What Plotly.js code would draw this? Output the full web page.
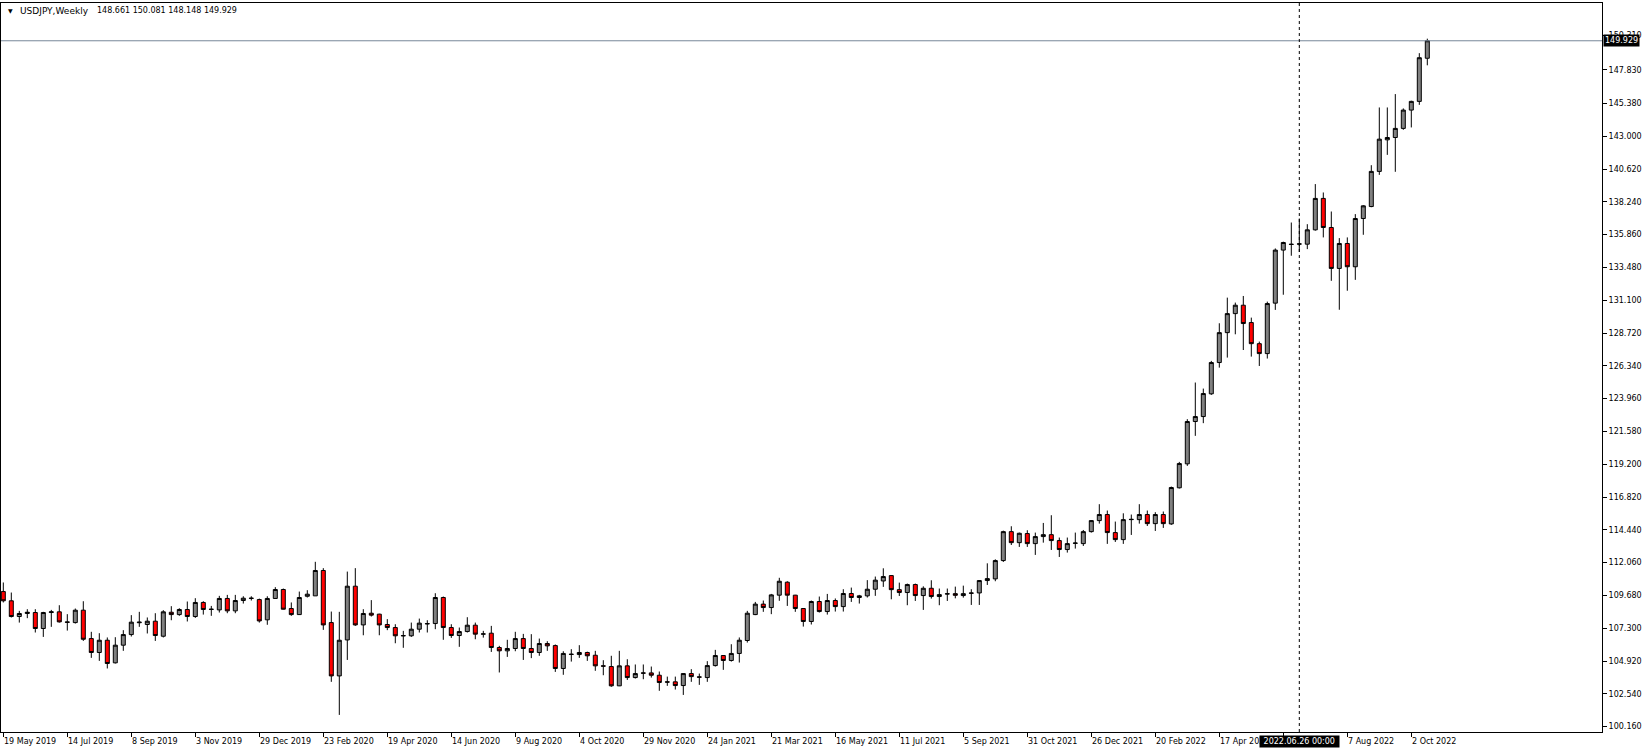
<!DOCTYPE html>
<html><head><meta charset="utf-8">
<script src="https://cdn.plot.ly/plotly-3.0.1.min.js"></script>
<style>html,body{margin:0;padding:0;background:#fff;overflow:hidden}#chart{width:1648px;height:753px}</style>
</head><body><div id="chart"></div>
<script>
// Weekly USDJPY bars, first bar week of 19 May 2019
const firstWeek = '2019-05-19';
const open = [109.96,109.29,108.15,108.37,108.44,107.28,108.44,108.49,107.76,107.71,108.61,106.55,105.54,106.43,104.79,106.07,106.84,107.70,107.57,107.81,
106.72,108.46,108.29,108.66,108.15,109.17,108.66,108.63,109.46,108.56,109.31,109.46,109.38,107.91,109.46,110.11,108.73,108.29,109.62,109.65,
111.49,107.71,103.84,106.45,110.35,107.54,108.39,108.32,107.57,107.35,106.77,106.75,107.23,107.64,107.64,109.53,107.35,106.77,107.06,107.52,
106.87,106.94,105.90,105.66,105.83,106.55,105.83,105.54,106.19,106.04,104.38,105.42,105.39,105.54,105.34,104.57,104.52,103.12,104.57,103.72,
104.06,104.06,103.89,103.41,103.41,103.14,104.01,103.77,103.72,104.59,105.32,104.96,105.47,106.41,108.29,109.05,108.80,109.70,110.64,109.70,
108.73,107.79,109.24,108.51,109.31,108.87,109.82,109.53,109.65,110.13,110.73,111.12,110.10,109.89,110.47,109.67,110.20,109.60,109.78,109.81,
109.67,109.86,109.86,110.76,110.88,112.21,114.31,113.51,114.17,113.44,113.95,114.09,113.66,113.01,113.46,113.44,114.31,115.11,115.55,114.24,
113.73,115.18,115.18,115.55,114.89,115.55,114.87,117.49,119.23,122.30,122.66,124.31,126.58,128.75,130.13,130.74,129.48,127.95,127.23,130.89,
134.74,135.17,135.17,135.17,136.21,138.49,136.38,133.41,135.22,133.53,137.03,137.90,140.45,142.74,142.91,143.57,144.90,145.53,148.661];
const high = [110.62,109.89,108.56,108.68,108.68,108.49,108.63,108.97,108.32,108.73,109.26,107.04,106.94,106.63,106.65,107.16,108.25,108.49,108.08,108.39,
108.61,108.90,108.75,109.24,109.48,109.26,108.92,109.65,109.72,109.72,109.62,109.62,109.45,109.62,110.28,110.18,109.17,109.96,110.06,112.12,
111.66,108.51,108.49,111.41,111.66,108.68,109.34,108.35,107.96,107.59,107.11,107.71,108.00,107.88,109.84,109.60,107.59,107.35,108.10,107.71,
107.11,107.47,106.02,106.46,107.04,106.89,106.87,106.55,106.36,106.12,105.63,105.78,106.07,105.60,105.66,104.98,105.30,105.66,105.05,104.67,
104.67,104.52,104.16,103.79,103.79,104.04,104.33,104.01,104.91,105.73,105.35,106.14,106.63,108.56,109.21,109.31,109.79,110.96,110.71,109.72,
108.75,109.31,109.60,109.79,109.46,110.13,110.25,109.72,110.79,111.05,111.65,111.15,110.61,110.54,110.54,110.34,110.78,110.18,110.18,110.32,
110.39,110.13,110.79,112.01,112.30,114.38,114.70,114.24,114.41,114.24,114.94,115.50,113.88,113.88,114.24,114.43,115.15,116.30,115.84,115.04,
115.64,115.55,116.30,115.84,115.72,115.77,117.58,119.37,122.47,125.13,124.69,126.70,129.43,131.29,130.93,131.41,129.84,128.10,131.00,134.86,
135.35,136.74,137.03,136.62,139.53,138.92,137.54,135.61,135.66,137.35,138.00,140.90,145.09,145.09,146.06,145.02,145.58,149.03,150.081];
const low = [109.17,108.08,107.71,108.03,106.99,106.67,107.40,107.71,107.13,107.64,106.38,105.15,104.93,104.38,104.74,105.66,106.70,107.40,106.92,106.38,
106.63,107.88,108.20,107.79,108.05,108.29,108.20,108.44,108.39,108.39,109.09,109.31,107.71,107.55,109.43,108.66,108.20,108.27,109.53,109.65,
107.18,103.41,101.01,105.00,107.47,106.79,108.15,106.79,107.16,106.21,105.88,106.67,106.99,106.99,107.23,106.46,106.60,105.95,106.99,106.50,
106.62,105.58,104.09,105.22,105.63,105.00,105.13,105.30,105.66,104.13,103.92,104.88,105.15,104.93,104.21,103.89,103.05,103.10,103.55,103.65,
103.60,103.72,102.76,103.12,102.85,102.46,103.41,103.19,103.41,104.52,104.28,104.88,104.81,106.26,108.25,108.49,108.32,109.29,108.92,108.49,
107.42,107.57,108.44,108.29,108.51,108.51,109.21,109.09,109.53,109.65,110.30,109.40,109.64,108.97,109.28,108.63,109.45,108.97,109.28,109.47,
109.52,108.99,108.99,110.44,110.71,112.11,113.34,113.20,113.20,112.62,113.51,112.98,112.47,112.79,113.08,113.27,114.24,114.89,113.42,113.56,
113.42,114.07,114.89,114.72,114.36,114.58,114.80,117.44,119.08,121.26,122.18,124.23,126.21,126.94,128.63,127.49,127.01,126.33,126.87,130.40,
131.50,134.33,134.60,134.81,136.15,135.66,132.51,130.41,131.79,132.58,135.85,137.85,140.20,141.65,140.42,143.47,143.64,145.28,148.148];
const close = [109.29,108.15,108.37,108.46,107.28,108.44,108.49,107.76,107.73,108.61,106.50,105.54,106.43,104.74,106.07,106.84,107.74,107.74,107.81,106.77,
108.49,108.29,108.66,108.15,109.17,108.66,108.68,109.46,108.56,109.31,109.48,109.48,107.83,109.46,110.11,108.68,108.29,109.53,109.77,111.49,
107.54,103.84,106.43,110.35,107.54,108.37,108.25,107.54,107.35,106.75,106.75,107.23,107.67,107.62,109.53,107.35,106.77,107.06,107.52,106.87,
106.89,105.90,105.66,105.83,106.55,105.83,105.54,106.19,106.02,104.38,105.47,105.40,105.54,105.30,104.57,104.55,103.12,104.57,103.72,104.01,
104.04,103.89,103.36,103.39,103.14,104.01,103.79,103.75,104.59,105.32,104.96,105.47,106.43,108.39,109.05,108.80,109.72,110.71,109.70,108.73,
107.79,109.24,108.51,109.31,108.87,109.82,109.53,109.65,110.13,110.79,111.05,110.10,109.89,110.47,109.67,110.20,109.60,109.74,109.80,109.69,
109.81,109.84,110.76,110.90,112.21,114.31,113.51,114.19,113.44,113.95,114.09,113.66,113.01,113.44,113.48,114.31,115.11,115.55,114.24,113.73,
115.18,115.20,115.55,114.89,115.55,114.89,117.51,119.25,122.30,122.66,124.33,126.58,128.75,130.13,130.74,129.41,127.95,127.23,130.86,134.74,
135.29,135.15,135.19,136.21,138.49,136.38,133.41,135.22,133.53,137.03,137.95,140.45,142.79,142.91,143.57,144.90,145.53,148.70,149.929];

// time-axis ticks (a tick every 8 bars); the one under the crosshair label shows no text
const timeTickDates = ['2019-05-19','2019-07-14','2019-09-08','2019-11-03','2019-12-29','2020-02-23','2020-04-19','2020-06-14','2020-08-09','2020-10-04','2020-11-29','2021-01-24','2021-03-21','2021-05-16','2021-07-11','2021-09-05','2021-10-31','2021-12-26','2022-02-20','2022-04-17','2022-06-12','2022-08-07','2022-10-02'];
const timeTickText = ['19 May 2019','14 Jul 2019','8 Sep 2019','3 Nov 2019','29 Dec 2019','23 Feb 2020','19 Apr 2020','14 Jun 2020','9 Aug 2020','4 Oct 2020','29 Nov 2020','24 Jan 2021','21 Mar 2021','16 May 2021','11 Jul 2021','5 Sep 2021','31 Oct 2021','26 Dec 2021','20 Feb 2022','17 Apr 2022','','7 Aug 2022','2 Oct 2022'];
const priceTicks = [100.16,102.54,104.92,107.30,109.68,112.06,114.44,116.82,119.20,121.58,123.96,126.34,128.72,131.10,133.48,135.86,138.24,140.62,143.00,145.38,147.83,150.31];
const symbol = 'USDJPY,Weekly';
const lastBid = 149.929;
const crossDate = '2022-06-26';
const crossText = '2022.06.26 00:00';

// weekly bar dates
const DAY = 864e5;
const t0 = Date.parse(firstWeek + 'T00:00:00Z');
const fmt = ms => new Date(ms).toISOString().slice(0,19).replace('T',' ');
const dates = open.map((_, i) => fmt(t0 + i * 7 * DAY).slice(0,10));

// layout geometry (pixels)
const M = {l:1, r:46, t:3, b:21};
const plotW = 1648 - M.l - M.r;
const barPx = 8, firstBarPx = 2.3;
const xLeft = t0 - (firstBarPx / barPx) * 7 * DAY;
const xRight = t0 + ((plotW - firstBarPx) / barPx) * 7 * DAY;

const font = {family: 'DejaVu Sans, Liberation Sans, sans-serif', size: 8, color: '#000'};

const trace = {
  type: 'candlestick', x: dates, open: open, high: high, low: low, close: close,
  increasing: {line: {color: '#000', width: 1}, fillcolor: '#808080'},
  decreasing: {line: {color: '#000', width: 1}, fillcolor: '#ff0000'},
  whiskerwidth: 0, hoverinfo: 'none', showlegend: false
};

const annotations = [];
timeTickDates.forEach((d, k) => {
  if (!timeTickText[k]) return;
  annotations.push({
    x: d, xref: 'x', y: 0, yref: 'paper', yanchor: 'middle', yshift: -9,
    xanchor: 'left', xshift: -1, text: timeTickText[k], showarrow: false, font: font
  });
});
annotations.push({
  x: crossDate, xref: 'x', y: 0, yref: 'paper', yanchor: 'middle', yshift: -9.5,
  xanchor: 'center', text: '\u00a0' + crossText + '\u00a0', showarrow: false,
  bgcolor: '#000', borderpad: 1, font: Object.assign({}, font, {color: '#fff'})
});
annotations.push({
  x: 1, xref: 'paper', xanchor: 'left', xshift: 1, y: lastBid, yref: 'y', yanchor: 'middle',
  text: lastBid.toFixed(3), showarrow: false, bgcolor: '#000', borderpad: 1,
  font: Object.assign({}, font, {color: '#fff'})
});
annotations.push({
  x: 5 / plotW, xref: 'paper', xanchor: 'left', y: 1, yref: 'paper', yanchor: 'middle', yshift: -7.5,
  text: '\u25BC', showarrow: false, font: Object.assign({}, font, {size: 6})
});
annotations.push({
  x: 17 / plotW, xref: 'paper', xanchor: 'left', y: 1, yref: 'paper', yanchor: 'middle', yshift: -7.5,
  text: symbol, showarrow: false, font: Object.assign({}, font, {size: 9})
});
annotations.push({
  x: 94 / plotW, xref: 'paper', xanchor: 'left', y: 1, yref: 'paper', yanchor: 'middle', yshift: -7.5,
  text: [open[open.length-1], high[high.length-1], low[low.length-1], close[close.length-1]].map(v => v.toFixed(3)).join(' '),
  showarrow: false, font: font
});

const layout = {
  width: 1648, height: 753, margin: M,
  paper_bgcolor: '#fff', plot_bgcolor: '#fff', font: font,
  showlegend: false, dragmode: false, boxgap: 0.5, boxgroupgap: 0,
  xaxis: {
    type: 'date', range: [fmt(xLeft), fmt(xRight)], rangeslider: {visible: false},
    tickmode: 'array', tickvals: timeTickDates, ticktext: timeTickDates.map(() => ''),
    showticklabels: false, ticks: 'outside', ticklen: 4, tickcolor: '#000', tickwidth: 1,
    showgrid: false, zeroline: false, showline: true, mirror: true, linecolor: '#000', linewidth: 1
  },
  yaxis: {
    side: 'right', range: [99.77, 152.67], tickmode: 'array', tickvals: priceTicks,
    ticktext: priceTicks.map(v => v.toFixed(3)), ticks: 'outside', ticklen: 4, tickcolor: '#000',
    tickfont: font, showgrid: false, zeroline: false, showline: true, mirror: true,
    linecolor: '#000', linewidth: 1
  },
  shapes: [
    {type: 'line', xref: 'paper', x0: 0, x1: 1, yref: 'y', y0: lastBid, y1: lastBid,
     line: {color: '#778899', width: 1}},
    {type: 'line', xref: 'x', x0: crossDate, x1: crossDate, yref: 'paper', y0: 0, y1: 1,
     line: {color: '#000', width: 1, dash: '3px,3px'}}
  ],
  annotations: annotations
};

Plotly.newPlot('chart', [trace], layout, {staticPlot: true, displayModeBar: false});
</script></body></html>
